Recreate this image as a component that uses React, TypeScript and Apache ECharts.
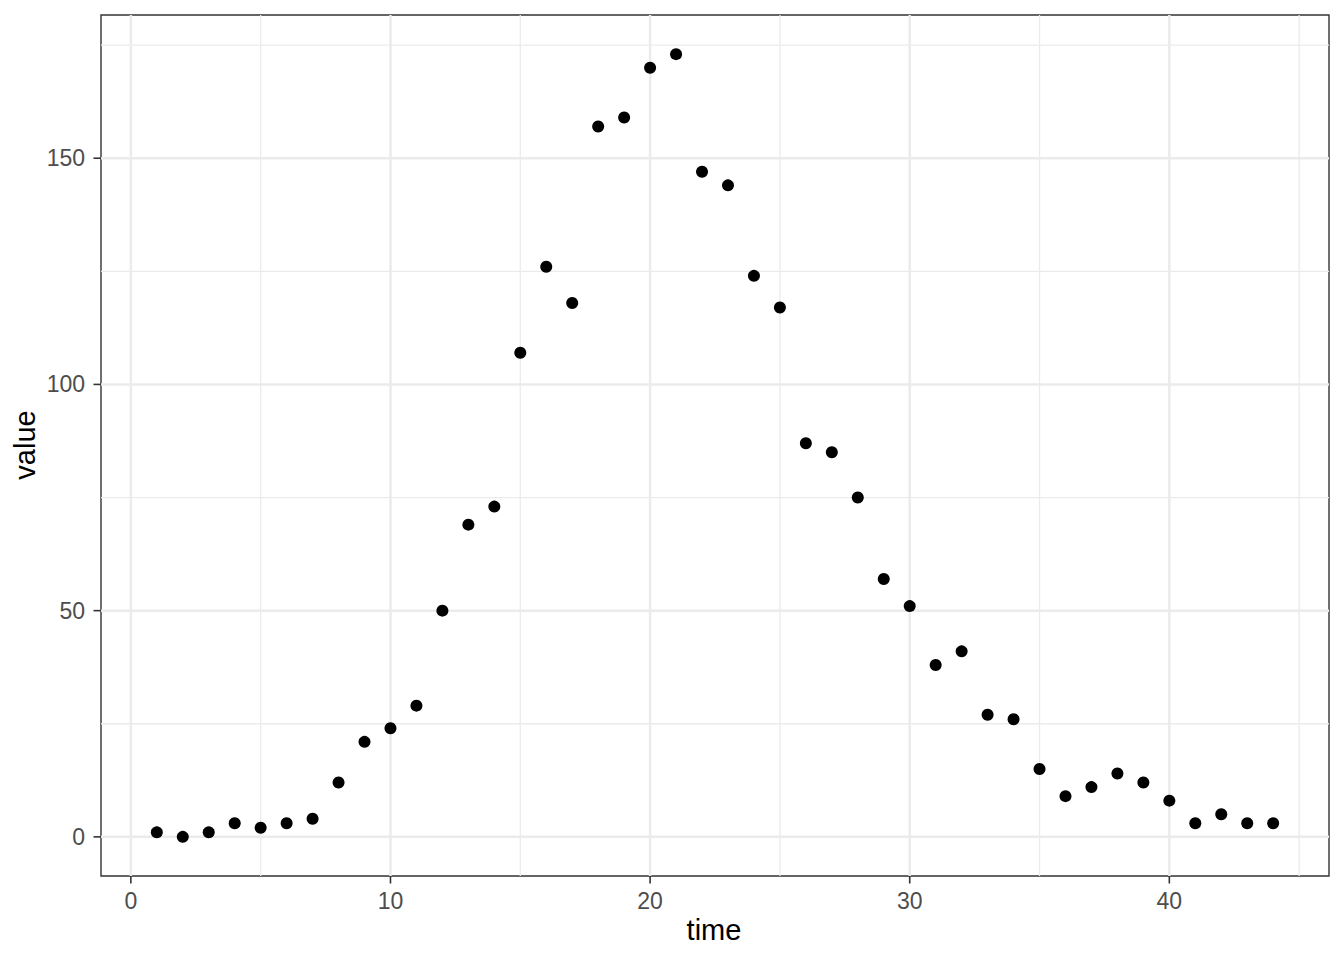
import React, { useEffect, useRef } from "react";
import * as echarts from "echarts";

const time = [1,2,3,4,5,6,7,8,9,10,11,12,13,14,15,16,17,18,19,20,21,22,23,24,25,26,27,28,29,30,31,32,33,34,35,36,37,38,39,40,41,42,43,44];
const values = [1,0,1,3,2,3,4,12,21,24,29,50,69,73,107,126,118,157,159,170,173,147,144,124,117,87,85,75,57,51,38,41,27,26,15,9,11,14,12,8,3,5,3,3];
const xTicks = [0, 10, 20, 30, 40];
const xMinor = [5, 15, 25, 35, 45];
const yTicks = [0, 50, 100, 150];
const yMinor = [25, 75, 125, 175];
const X_MIN = -1.15;
const X_MAX = 46.15;
const Y_MIN = -8.65;
const Y_MAX = 181.65;

export default function App() {
  const ref = useRef<HTMLDivElement>(null);
  useEffect(() => {
    if (!ref.current) return;
    const chart = echarts.init(ref.current, null, { renderer: "svg" });
    const font = "'Liberation Sans', Arial, sans-serif";
    const tickStyle = { stroke: "#333333", lineWidth: 1.6 };
    const minorStyle = { stroke: "#EBEBEB", lineWidth: 1.3 };
    const majorStyle = { stroke: "#EBEBEB", lineWidth: 2.5 };

    const vLines = (vals: number[], style: any, z: number) => ({
      type: "custom",
      silent: true,
      clip: false,
      z,
      data: vals.map((v) => [v, Y_MIN]),
      renderItem: (params: any, api: any) => {
        const a = api.coord([api.value(0), Y_MIN]);
        const b = api.coord([api.value(0), Y_MAX]);
        return { type: "line", shape: { x1: a[0], y1: a[1], x2: b[0], y2: b[1] }, style };
      },
    });
    const hLines = (vals: number[], style: any, z: number) => ({
      type: "custom",
      silent: true,
      clip: false,
      z,
      data: vals.map((v) => [X_MIN, v]),
      renderItem: (params: any, api: any) => {
        const a = api.coord([X_MIN, api.value(1)]);
        const b = api.coord([X_MAX, api.value(1)]);
        return { type: "line", shape: { x1: a[0], y1: a[1], x2: b[0], y2: b[1] }, style };
      },
    });

    chart.setOption({
      animation: false,
      backgroundColor: "#FFFFFF",
      grid: {
        left: 101,
        right: 15,
        top: 15,
        bottom: 84,
        show: true,
        backgroundColor: "#FFFFFF",
        borderColor: "#333333",
        borderWidth: 1.4,
        z: 0,
      },
      xAxis: {
        type: "value",
        min: X_MIN,
        max: X_MAX,
        axisLine: { show: false },
        splitLine: { show: false },
        axisTick: { show: false },
        minorTick: { show: false },
        axisLabel: {
          customValues: xTicks,
          color: "#4D4D4D",
          fontSize: 23,
          fontFamily: font,
          margin: 13,
        },
      },
      yAxis: {
        type: "value",
        min: Y_MIN,
        max: Y_MAX,
        axisLine: { show: false },
        splitLine: { show: false },
        axisTick: { show: false },
        minorTick: { show: false },
        axisLabel: {
          customValues: yTicks,
          color: "#4D4D4D",
          fontSize: 23,
          fontFamily: font,
          margin: 16,
        },
      },
      graphic: [
        {
          type: "text",
          x: 714,
          y: 930,
          style: {
            text: "time",
            fill: "#000000",
            font: `29px ${font}`,
            align: "center",
            verticalAlign: "middle",
          },
        },
        {
          type: "text",
          x: 25,
          y: 445,
          rotation: Math.PI / 2,
          style: {
            text: "value",
            fill: "#000000",
            font: `29px ${font}`,
            align: "center",
            verticalAlign: "middle",
          },
        },
      ],
      series: [
        vLines(xMinor, minorStyle, 1),
        hLines(yMinor, minorStyle, 1),
        vLines(xTicks, majorStyle, 2),
        hLines(yTicks, majorStyle, 2),
        {
          type: "custom",
          silent: true,
          clip: false,
          z: 3,
          data: xTicks.map((v) => [v, Y_MIN]),
          renderItem: (params: any, api: any) => {
            const p = api.coord([api.value(0), Y_MIN]);
            return {
              type: "line",
              shape: { x1: p[0], y1: p[1], x2: p[0], y2: p[1] + 7.5 },
              style: tickStyle,
            };
          },
        },
        {
          type: "custom",
          silent: true,
          clip: false,
          z: 3,
          data: yTicks.map((v) => [X_MIN, v]),
          renderItem: (params: any, api: any) => {
            const p = api.coord([X_MIN, api.value(1)]);
            return {
              type: "line",
              shape: { x1: p[0] - 7.5, y1: p[1], x2: p[0], y2: p[1] },
              style: tickStyle,
            };
          },
        },
        {
          type: "scatter",
          z: 5,
          symbol: "circle",
          symbolSize: 12,
          itemStyle: { color: "#000000", opacity: 1 },
          data: time.map((t, i) => [t, values[i]]),
        },
      ],
    });
    return () => chart.dispose();
  }, []);
  return (
    <div
      ref={ref}
      style={{ position: "fixed", left: 0, top: 0, width: 1344, height: 960 }}
    />
  );
}
